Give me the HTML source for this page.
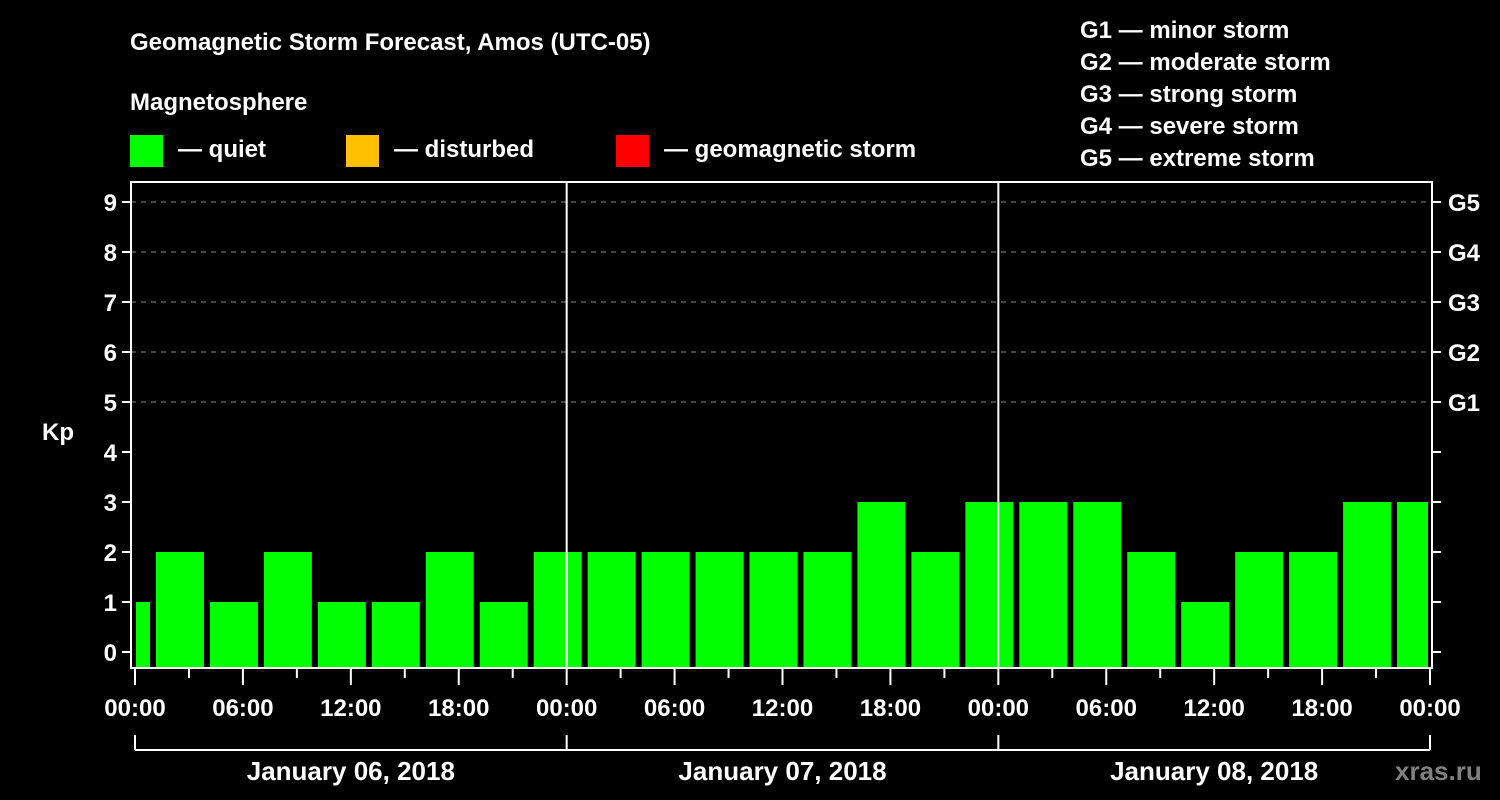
<!DOCTYPE html>
<html><head><meta charset="utf-8"><style>
body{margin:0;background:#000;width:1500px;height:800px;overflow:hidden}
svg{display:block}
text{font-family:"Liberation Sans",Arial,sans-serif;font-weight:bold;fill:#fff}
</style></head><body>
<svg id="chart" width="1500" height="800" viewBox="0 0 1500 800">
<rect width="1500" height="800" fill="#000"/>
<text x="130" y="50" font-size="24">Geomagnetic Storm Forecast, Amos (UTC-05)</text>
<text x="130" y="110" font-size="24">Magnetosphere</text>
<g><rect x="130" y="135" width="33" height="32" fill="#00ff00"/><text x="178" y="157" font-size="24">— quiet</text></g>
<g><rect x="346" y="135" width="33" height="32" fill="#ffc000"/><text x="394" y="157" font-size="24">— disturbed</text></g>
<g><rect x="616" y="135" width="33" height="32" fill="#ff0000"/><text x="664" y="157" font-size="24">— geomagnetic storm</text></g>
<g font-size="24">
<text x="1080" y="38">G1 — minor storm</text>
<text x="1080" y="70">G2 — moderate storm</text>
<text x="1080" y="102">G3 — strong storm</text>
<text x="1080" y="134">G4 — severe storm</text>
<text x="1080" y="166">G5 — extreme storm</text>
</g>
<text x="42" y="440" font-size="24">Kp</text>
<g id="grid"></g><g id="bars"></g><g id="axes"></g>
<text x="1395" y="780" font-size="26" style="fill:#808080">xras.ru</text>
</svg>
<script>
const kpValues=[1,2,1,2,1,1,2,1,2,2,2,2,2,2,3,2,3,3,3,2,1,2,2,3,3];
const slotStartHours=[-2,1,4,7,10,13,16,19,22,25,28,31,34,37,40,43,46,49,52,55,58,61,64,67,70];
const yTicks=[0,1,2,3,4,5,6,7,8,9];
const gLabels={5:"G1",6:"G2",7:"G3",8:"G4",9:"G5"};
const hourLabels=["00:00","06:00","12:00","18:00"];
const dayLabels=["January 06, 2018","January 07, 2018","January 08, 2018"];
const NS="http://www.w3.org/2000/svg";
const X0=135,PXH=431.67/24,Y0=652,PYU=50,L=131,R=1432,T=182,B=668;
const x=h=>X0+h*PXH, y=v=>Y0-v*PYU;
function mk(tag,at,p){const e=document.createElementNS(NS,tag);for(const k in at)e.setAttribute(k,at[k]);p.appendChild(e);return e;}
const grid=document.getElementById('grid'),bars=document.getElementById('bars'),axes=document.getElementById('axes');
yTicks.forEach(v=>{if(v>=5){const l=mk('line',{x1:L,x2:R,y1:y(v),y2:y(v),stroke:'#888','stroke-width':1,'stroke-dasharray':'5,5'},grid);

}});
kpValues.forEach((v,i)=>{let a=x(slotStartHours[i])+3,b=x(slotStartHours[i]+3)-3;a=Math.max(a,L+5);b=Math.min(b,x(72)-2);
const c=v<4?'#00ff00':(v<5?'#ffc000':'#ff0000');
const r=mk('rect',{x:a,y:y(v),width:b-a,height:B-y(v),fill:c},bars);

});
// day separators
[1,2].forEach(d=>{const l=mk('line',{x1:x(24*d),x2:x(24*d),y1:T,y2:B,stroke:'#fff','stroke-width':2},axes);

});
const fr=mk('rect',{x:L,y:T,width:R-L,height:B-T,fill:'none',stroke:'#fff','stroke-width':2},axes);


yTicks.forEach(v=>{mk('line',{x1:L-9,x2:L,y1:y(v),y2:y(v),stroke:'#fff','stroke-width':2},axes);
mk('line',{x1:R,x2:R+9,y1:y(v),y2:y(v),stroke:'#fff','stroke-width':2},axes);
const t=mk('text',{x:L-14,y:y(v)+9,'font-size':24,'text-anchor':'end'},axes);t.textContent=v;


if(gLabels[v]){const g=mk('text',{x:1448,y:y(v)+9,'font-size':24},axes);g.textContent=gLabels[v];

}});
for(let h=0;h<=72;h+=3){const major=h%6===0;mk('line',{x1:x(h),x2:x(h),y1:B,y2:major?685:678,stroke:'#fff','stroke-width':2},axes);
if(major){const t=mk('text',{x:x(h),y:716,'font-size':24,'text-anchor':'middle'},axes);t.textContent=hourLabels[(h/6)%4];

}}
mk('line',{x1:x(0),x2:x(72),y1:750,y2:750,stroke:'#fff','stroke-width':2},axes);
for(let d=0;d<=3;d++)mk('line',{x1:x(24*d),x2:x(24*d),y1:735,y2:750,stroke:'#fff','stroke-width':2},axes);
dayLabels.forEach((s,d)=>{const t=mk('text',{x:x(24*d+12),y:780,'font-size':26,'text-anchor':'middle'},axes);t.textContent=s;

});
</script>
</body></html>
